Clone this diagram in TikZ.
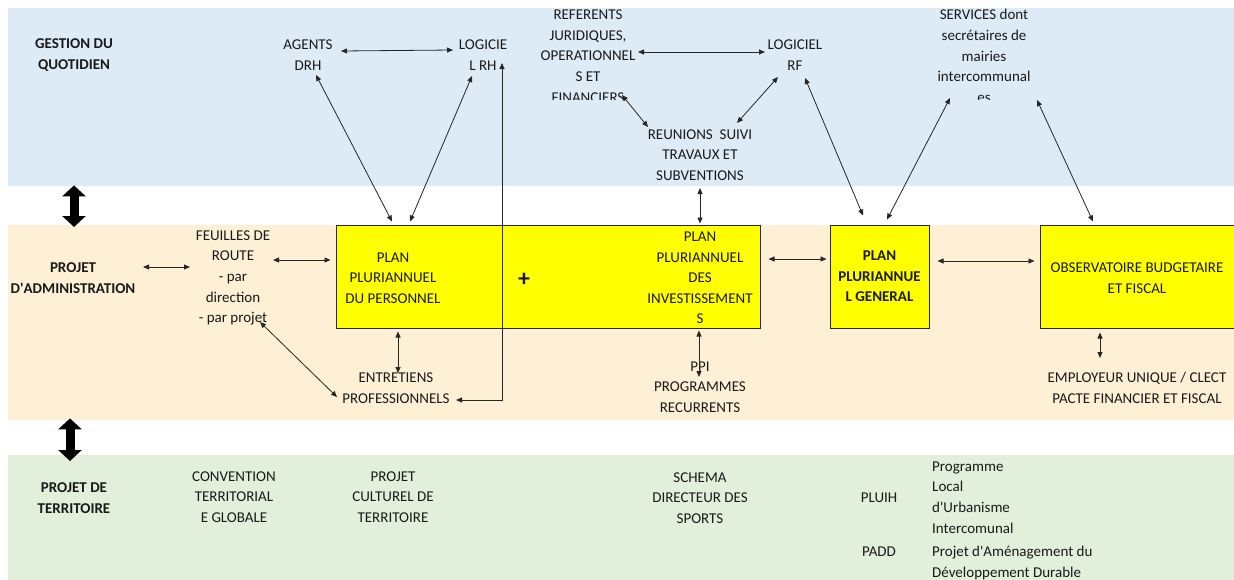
\documentclass[tikz,border=0pt]{standalone}
\usepackage{fontspec}
\setmainfont{Carlito}
\usetikzlibrary{arrows.meta,calc}
\definecolor{bandblue}{HTML}{DDEBF7}
\definecolor{bandorange}{HTML}{FDF0D5}
\definecolor{bandgreen}{HTML}{E2EFDA}
\definecolor{txt}{HTML}{1A1A1A}
\definecolor{boxyellow}{HTML}{FFFF00}
\begin{document}
\begin{tikzpicture}[x=1pt,y=-1pt,
  every node/.style={font=\fontsize{15}{20.6}\selectfont, text=txt, inner sep=0pt, align=center},
  boldtxt/.style={font=\fontsize{15}{20.6}\selectfont\bfseries},
  band/.style={draw=none, minimum width=1226pt, anchor=north west},
  ybox/.style={fill=boxyellow, draw=black!85, line width=1pt},
  link/.style={draw=black!85, line width=0.8pt, {Triangle[length=6pt,width=5pt]}-{Triangle[length=6pt,width=5pt]}},
  bigarrow/.style={draw=black, line width=9pt, {Triangle[length=11pt,width=23pt]}-{Triangle[length=11pt,width=23pt]}}]
\useasboundingbox (0,0) rectangle (1234,579);
\fill[white] (0,0) rectangle (1234,579);

% bands
\node[band, fill=bandblue, minimum height=178pt] (gband) at (8,8) {};
\node[band, fill=bandorange, minimum height=195pt] (aband) at (8,225) {};
\node[band, fill=bandgreen, minimum height=130pt] (tband) at (8,455) {};

% big arrows between bands
\draw[bigarrow] ($(gband.south west)+(66,-1)$) -- ($(aband.north west)+(66,2)$);
\draw[bigarrow] ($(aband.south west)+(62,-2)$) -- ($(tband.north west)+(62,6)$);

% yellow boxes
\node[ybox, minimum width=424pt, minimum height=103pt] (pplan) at (548,276.5) {};
\node[ybox, boldtxt, minimum width=99pt, minimum height=103pt] (pgen) at (879.5,276.5) {PLAN\\PLURIANNUE\\L GENERAL};
\node[ybox, minimum width=200pt, minimum height=103pt] (obs) at (1140,276.5) {};

% top band texts
\node[boldtxt] (gq) at (74,55) {GESTION DU\\QUOTIDIEN};
\node (agents) at (308,55) {AGENTS\\DRH};
\node (logrh) at (483,55) {LOGICIE\\L RH};
\begin{scope}
  \clip (520,0) rectangle (660,99);
  \node (ref) at (588,56) {REFERENTS\\JURIDIQUES,\\OPERATIONNEL\\S ET\\FINANCIERS};
\end{scope}
\node (logrf) at (795,55) {LOGICIEL\\RF};
\node (reu) at (700,155) {REUNIONS\ \ SUIVI\\TRAVAUX ET\\SUBVENTIONS};
\begin{scope}
  \clip (910,0) rectangle (1060,99);
  \node (serv) at (984,56) {SERVICES dont\\secrétaires de\\mairies\\intercommunal\\es};
\end{scope}

% middle band texts
\node[boldtxt] (pa) at (73,278) {PROJET\\D\textquotesingle ADMINISTRATION};
\node (feu) at (233,278) {FEUILLES DE\\ROUTE\\- par\\direction\\- par projet};
\node (ppp) at (393,278) {PLAN\\PLURIANNUEL\\DU PERSONNEL};
\node[font=\fontsize{24}{26}\selectfont\bfseries] (plus) at (524,280) {+};
\node (ppit) at (700,278) {PLAN\\PLURIANNUEL\\DES\\INVESTISSEMENT\\S};
\node (obst) at (1137,278) {OBSERVATOIRE BUDGETAIRE\\ET FISCAL};
\node (ent) at (396,388) {ENTRETIENS\\PROFESSIONNELS};
\node (ppi) at (700,387) {PPI\\PROGRAMMES\\RECURRENTS};
\node (emp) at (1137,388) {EMPLOYEUR UNIQUE / CLECT\\PACTE FINANCIER ET FISCAL};

% bottom band texts
\node[boldtxt] (pt) at (74,498) {PROJET DE\\TERRITOIRE};
\node (cte) at (234,497) {CONVENTION\\TERRITORIAL\\E GLOBALE};
\node (pct) at (393,497) {PROJET\\CULTUREL DE\\TERRITOIRE};
\node (sds) at (700,498) {SCHEMA\\DIRECTEUR DES\\SPORTS};
\node (pluih) at (879,498) {PLUIH};
\node[anchor=west, align=left] (plui) at (932,497.5) {Programme\\Local\\d\textquotesingle Urbanisme\\Intercomunal};
\node (padd) at (879,552) {PADD};
\node[anchor=west, align=left] (padt) at (932,563) {Projet d\textquotesingle Aménagement du\\Développement Durable};

% connectors
\draw[link] ($(agents)+(33,-4)$) -- ($(logrh)+(-30,-5)$);
\draw[link] ($(agents)+(8,20)$) -- ($(pplan.north)+(-156,-3)$);
\draw[link] ($(logrh)+(-11,21)$) -- ($(pplan.north)+(-138,-3)$);
\draw[link] ($(ent)+(60,12)$) -| ($(logrh)+(19,8)$);
\draw[link] ($(ref)+(50,-4)$) -- ($(logrf)+(-30,-3)$);
\draw[link] ($(ref)+(34,39)$) -- ($(reu)+(-52,-28)$);
\draw[link] ($(logrf)+(-17,22)$) -- ($(reu)+(37,-32)$);
\draw[link] ($(reu)+(0,33)$) -- ($(pplan.north)+(152,-1)$);
\draw[link] ($(logrf)+(10,23)$) -- ($(pgen.north)+(-16.5,-9)$);
\draw[link] ($(serv)+(-34,42)$) -- ($(pgen.north)+(7.5,-5)$);
\draw[link] ($(serv)+(53,44)$) -- ($(obs.north)+(-47,-3)$);
\draw[link] ($(pa)+(70,-11)$) -- ($(feu)+(-43,-11)$);
\draw[link] ($(feu)+(40,-18)$) -- ($(pplan.west)+(-5,-16.5)$);
\draw[link] ($(feu)+(27,44)$) -- ($(ent)+(-59,9)$);
\draw[link] ($(pplan.south)+(-150,3)$) -- ($(ent)+(2,-15)$);
\draw[link] ($(pplan.south)+(151,2)$) -- ($(ppi)+(-1,-10)$);
\draw[link] ($(pplan.east)+(8,-17.5)$) -- ($(pgen.west)+(-3,-17.5)$);
\draw[link] ($(pgen.east)+(8,-15.5)$) -- ($(obs.west)+(-5,-15.5)$);
\draw[link] ($(obs.south)+(-40,4)$) -- ($(emp)+(-37,-30)$);
\end{tikzpicture}
\end{document}
